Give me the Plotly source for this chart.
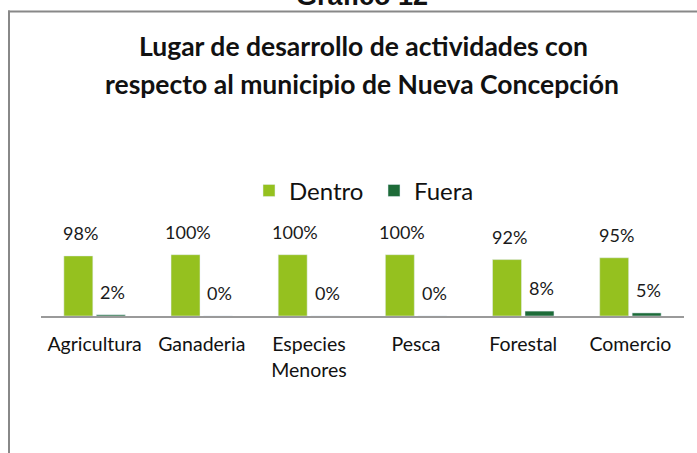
import plotly.graph_objects as go

categorias = ["Agricultura", "Ganaderia", "Especies<br>Menores", "Pesca", "Forestal", "Comercio"]
dentro = [98, 100, 100, 100, 92, 95]
fuera = [2, 0, 0, 0, 8, 5]
etiquetas_dentro = ["98%", "100%", "100%", "100%", "92%", "95%"]
etiquetas_fuera = ["2%", "0%", "0%", "0%", "8%", "5%"]

W, H = 697, 453
ML, MR, MT, MB = 41, 13, 150, 136.5
PW, PH = W - ML - MR, H - MT - MB
YMAX = PH / 61.5 * 100

def px_x(p):
    return (p - ML) / PW

def px_y(p):
    return (H - MB - p) / PH

COL_D = "#95C11F"
COL_F = "#1D6B38"
FONT = "Lato"

fig = go.Figure()
fig.add_trace(go.Bar(name="Dentro", x=categorias, y=dentro, marker_color=COL_D))
fig.add_trace(go.Bar(name="Fuera", x=categorias, y=fuera, marker_color=COL_F))

annotations = []
slot = PW / len(categorias) * (1 - 0.394) / 2
for c, v, t in zip(categorias, dentro, etiquetas_dentro):
    annotations.append(dict(x=c, y=v, text=t, xref="x", yref="y", showarrow=False,
                            xshift=-slot / 2 + 2, yshift=23, yanchor="middle",
                            font=dict(family=FONT, size=18, color="#1a1a1a")))
for c, v, t in zip(categorias, fuera, etiquetas_fuera):
    annotations.append(dict(x=c, y=v, text=t, xref="x", yref="y", showarrow=False,
                            xshift=slot / 2 + 2, yshift=23, yanchor="middle",
                            font=dict(family=FONT, size=18, color="#1a1a1a")))

annotations.append(dict(x=px_x(363), y=px_y(46), xref="paper", yref="paper",
                        text="<b>Lugar de desarrollo de actividades con</b>", showarrow=False,
                        xanchor="center", yanchor="middle",
                        font=dict(family=FONT, size=26.5, color="#111")))
annotations.append(dict(x=px_x(362), y=px_y(84), xref="paper", yref="paper",
                        text="<b>respecto al municipio de Nueva Concepción</b>", showarrow=False,
                        xanchor="center", yanchor="middle",
                        font=dict(family=FONT, size=26.5, color="#111")))
annotations.append(dict(x=px_x(362), y=px_y(-4), xref="paper", yref="paper",
                        text="<b>Gráfico 12</b>", showarrow=False,
                        xanchor="center", yanchor="middle",
                        font=dict(family="Liberation Sans", size=27, color="#111")))

shapes = [
    dict(type="line", xref="paper", yref="paper", x0=px_x(8), x1=px_x(W + 5),
         y0=px_y(11), y1=px_y(11), line=dict(color="#888888", width=2)),
    dict(type="line", xref="paper", yref="paper", x0=px_x(9), x1=px_x(9),
         y0=px_y(10), y1=px_y(H + 5), line=dict(color="#888888", width=2)),
]

fig.update_layout(
    width=W, height=H,
    margin=dict(l=ML, r=MR, t=MT, b=MB, pad=0),
    paper_bgcolor="white", plot_bgcolor="white",
    barmode="group", bargap=0.394, bargroupgap=0.108,
    showlegend=True,
    legend=dict(orientation="h", x=px_x(374), y=px_y(191), xanchor="center", yanchor="middle",
                font=dict(family=FONT, size=24, color="#111"), itemwidth=30,
                entrywidth=80, entrywidthmode="pixels",
                bgcolor="rgba(0,0,0,0)"),
    annotations=annotations,
    shapes=shapes,
    xaxis=dict(showline=True, linecolor="#9a9a9a", linewidth=2, ticks="",
               tickfont=dict(family=FONT, size=19.5, color="#111"), showgrid=False,
               ticklabelstandoff=10),
    yaxis=dict(range=[0, YMAX], visible=False, showgrid=False, zeroline=False),
)

fig.write_html("out.html", config={"displayModeBar": False},
               post_script="document.body.style.margin='0';document.body.style.overflow='hidden';")
